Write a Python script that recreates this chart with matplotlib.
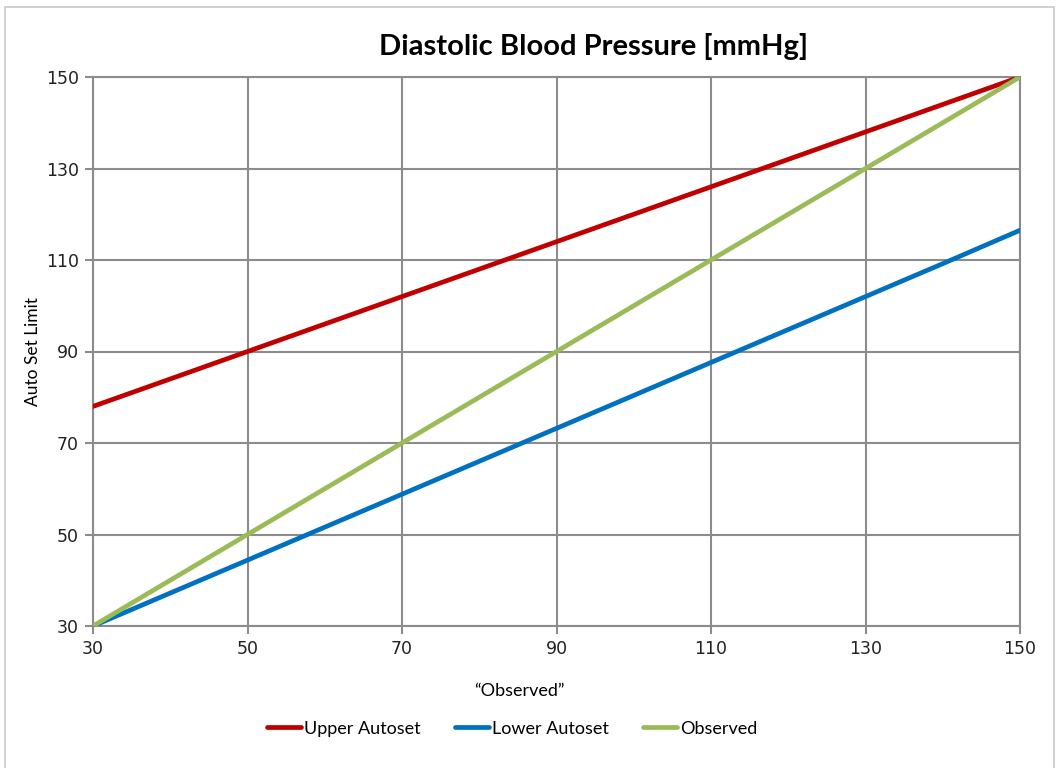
import numpy as np
import matplotlib
matplotlib.use('Agg')
import matplotlib.pyplot as plt
from matplotlib.patches import Rectangle

# data
observed_x = [30, 40, 50, 60, 70, 80, 90, 100, 110, 120, 130, 140, 150]
upper_autoset = [78, 84, 90, 96, 102, 108, 114, 120, 126, 132, 138, 144, 150]
lower_autoset = [30, 37.2, 44.4, 51.6, 58.8, 66, 73.2, 80.4, 87.6, 94.8, 102, 109.2, 116.5]
observed = [30, 40, 50, 60, 70, 80, 90, 100, 110, 120, 130, 140, 150]

ticks = [30, 50, 70, 90, 110, 130, 150]

label_font = ['Lato', 'DejaVu Sans']

fig = plt.figure(figsize=(10.59, 7.68), dpi=100)
ax = fig.add_axes([93 / 1059, 1 - 626 / 768, (1020 - 93) / 1059, (626 - 77) / 768])

# chart border
fig.patches.append(Rectangle((5 / 1059, -0.01), (1054 - 5) / 1059, 1 - 7 / 768 + 0.01,
                             transform=fig.transFigure, fill=False,
                             edgecolor='#c8c8c8', linewidth=1.2))

ax.plot(observed_x, upper_autoset, color='#c00000', lw=3.4, label='Upper Autoset',
        solid_capstyle='round', zorder=3)
ax.plot(observed_x, lower_autoset, color='#0070c0', lw=3.4, label='Lower Autoset',
        solid_capstyle='round', zorder=3)
ax.plot(observed_x, observed, color='#9bbb59', lw=3.4, label='Observed',
        solid_capstyle='round', zorder=3)

ax.set_xlim(30, 150)
ax.set_ylim(30, 150)
ax.set_xticks(ticks)
ax.set_yticks(ticks)
ax.grid(True, color='#8c8c8c', linewidth=1.5)
ax.set_axisbelow(True)
for spine in ax.spines.values():
    spine.set_color('#8c8c8c')
    spine.set_linewidth(1.5)
ax.tick_params(axis='both', direction='out', length=6, width=1.5, color='#8c8c8c',
               labelsize=12.5, labelcolor='#222222', pad=4)

ax.set_title('Diastolic Blood Pressure [mmHg]', family=label_font, fontsize=21,
             fontweight='bold', pad=16, x=0.54)
ax.set_xlabel('\u201cObserved\u201d', family=label_font, fontsize=13, labelpad=18, x=0.46)
ax.set_ylabel('Auto Set Limit', family=label_font, fontsize=12.5, labelpad=4)

leg = ax.legend(loc='upper center', bbox_to_anchor=(0.452, -0.143), ncol=3, frameon=False,
                prop={'family': label_font, 'size': 13}, handlelength=1.9,
                handletextpad=0.15, columnspacing=1.9)

fig.savefig('out.png', dpi=100)
